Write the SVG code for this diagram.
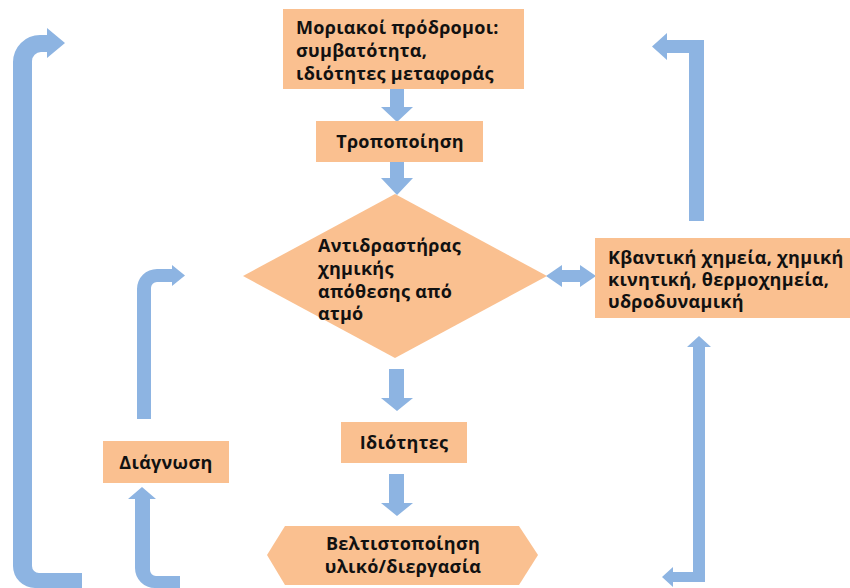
<svg xmlns="http://www.w3.org/2000/svg" width="850" height="588" viewBox="0 0 850 588">
<style>
.box{fill:#FAC090}
.arr{fill:#8DB4E2}
text{font-family:"Open Sans","Noto Sans","DejaVu Sans",sans-serif;font-weight:bold;font-size:18px;letter-spacing:0.3px;fill:#111111}
.c{text-anchor:middle}
</style>
<rect width="850" height="588" fill="#ffffff"/>
<g id="connectors">
<path class="arr" d="M82,573 L39,573 A7,7 0 0 1 32,566 L32,61 A9,9 0 0 1 41,52 L47,52 L47,58 L65,43 L47,28 L47,35 L40,35 A27,27 0 0 0 13,62 L13,566 A22,22 0 0 0 35,588 L82,588 Z"/>
<path class="arr" d="M137,419 L151,419 L151,288 A6,6 0 0 1 157,282 L172,282 L172,286 L185,275.5 L172,265 L172,269 L157,269 A20,20 0 0 0 137,289 Z"/>
<path class="arr" d="M128,499 L142,487 L156,499 L150,499 L150,570 A6,6 0 0 0 156,576 L180,576 L180,588 L155,588 A20,20 0 0 1 135,568 L135,499 Z"/>
<path class="arr" d="M689,221 L704,221 L704,40 L667,40 L667,33 L652,46.5 L667,60 L667,53 L689,53 Z"/>
<path class="arr" d="M699,336 L711,347 L705,347 L705,582 L673,582 L673,587 L662,577 L673,567 L673,572 L693,572 L693,347 L687,347 Z"/>
<path class="arr" d="M546,276 L562,265 L562,270 L580,270 L580,265 L596,276 L580,287 L580,282 L562,282 L562,287 Z"/>
<path class="arr" d="M390,89 L404,89 L404,107 L413,107 L397,122 L381,107 L390,107 Z"/>
<path class="arr" d="M390,162 L404,162 L404,178 L413,178 L397,195 L381,178 L390,178 Z"/>
<path class="arr" d="M389,369 L404,369 L404,398 L413,398 L397,411 L381,398 L389,398 Z"/>
<path class="arr" d="M389,474 L404,474 L404,503 L413,503 L397,516 L381,503 L389,503 Z"/>
</g>
<g id="precursors">
<rect class="box" x="283" y="9" width="241" height="80"/>
<text x="296" y="34">Μοριακοί πρόδρομοι:</text>
<text x="296" y="57">συμβατότητα,</text>
<text x="296" y="80">ιδιότητες μεταφοράς</text>
</g>
<g id="modification">
<rect class="box" x="316" y="121" width="167" height="41"/>
<text class="c" x="400" y="148">Τροποποίηση</text>
</g>
<g id="reactor">
<polygon class="box" points="395,194 547,276 395,358 243,276"/>
<text x="318" y="252">Αντιδραστήρας</text>
<text x="318" y="275">χημικής</text>
<text x="318" y="298">απόθεσης από</text>
<text x="318" y="320">ατμό</text>
</g>
<g id="modeling">
<rect class="box" x="595" y="238" width="255" height="80"/>
<text x="608" y="264">Κβαντική χημεία, χημική</text>
<text x="608" y="286">κινητική, θερμοχημεία,</text>
<text x="608" y="308">υδροδυναμική</text>
</g>
<g id="properties">
<rect class="box" x="341" y="422" width="126" height="41"/>
<text class="c" x="404" y="449">Ιδιότητες</text>
</g>
<g id="diagnosis">
<rect class="box" x="103" y="441" width="126" height="42"/>
<text class="c" x="166" y="469">Διάγνωση</text>
</g>
<g id="optimization">
<polygon class="box" points="267,555 285,526 519,526 538,555 519,585 285,585"/>
<text class="c" x="403" y="550">Βελτιστοποίηση</text>
<text class="c" x="403" y="573">υλικό/διεργασία</text>
</g>
</svg>
